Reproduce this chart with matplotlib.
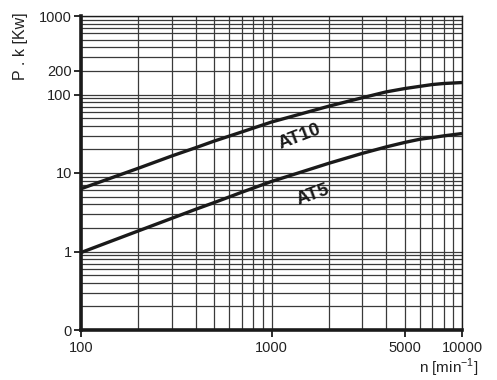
import matplotlib
matplotlib.use("Agg")
import matplotlib.pyplot as plt
from matplotlib.ticker import NullFormatter, LogLocator

plt.rcParams['font.family'] = ['Liberation Sans', 'DejaVu Sans']
plt.rcParams['mathtext.fontset'] = 'custom'
plt.rcParams['mathtext.rm'] = 'Liberation Sans'

# data
n_rpm = [100, 200, 300, 400, 500, 700, 1000, 2000, 3000, 4000, 5000, 6000, 7000, 8000, 10000]
at10 = [6.3, 11.5, 16.5, 21, 25.5, 33.4, 44.6, 71, 91, 108, 119, 127, 134, 138, 142]
at5 = [0.97, 1.83, 2.65, 3.45, 4.2, 5.7, 7.8, 13.3, 17.8, 21.5, 24.5, 26.9, 28.3, 29.7, 31.8]
x_ticks = [100, 1000, 5000, 10000]
x_labels = ['100', '1000', '5000', '10000']
y_ticks = [0.1, 1, 10, 100, 200, 1000]
y_labels = ['0', '1', '10', '100', '200', '1000']

fig = plt.figure(figsize=(4.97, 3.80), dpi=100)
ax = fig.add_axes([81/497, 1-330/380, (462-81)/497, (330-16)/380])
ax.set_xscale('log')
ax.set_yscale('log')
ax.set_xlim(100, 10000)
ax.set_ylim(0.1, 1000)

# grid
ax.xaxis.set_minor_locator(LogLocator(base=10, subs=range(2, 10)))
ax.yaxis.set_minor_locator(LogLocator(base=10, subs=range(2, 10)))
ax.grid(True, which='both', axis='both', color='#3a3a3a', linewidth=0.9)
ax.set_axisbelow(True)

ax.plot(n_rpm, at10, color='#1a1a1a', linewidth=2.4, solid_capstyle='butt', zorder=3)
ax.plot(n_rpm, at5, color='#1a1a1a', linewidth=2.4, solid_capstyle='butt', zorder=3)

ax.set_xticks(x_ticks)
ax.set_xticklabels(x_labels)
ax.set_yticks(y_ticks)
ax.set_yticklabels(y_labels)
ax.xaxis.set_minor_formatter(NullFormatter())
ax.yaxis.set_minor_formatter(NullFormatter())
ax.tick_params(which='minor', length=0)
ax.tick_params(which='major', length=5, width=1.3, color='#1a1a1a',
               labelsize=10.5, labelcolor='#222222')
ax.tick_params(axis='y', pad=1.5)
ax.tick_params(axis='x', pad=3)

for s in ['left', 'bottom']:
    ax.spines[s].set_linewidth(2.6)
    ax.spines[s].set_color('#1a1a1a')
for s in ['top', 'right']:
    ax.spines[s].set_linewidth(1.0)
    ax.spines[s].set_color('#1a1a1a')

lab_font = dict(family=['Liberation Sans Narrow', 'Liberation Sans'], weight='bold',
                size=13.5, color='#1a1a1a', ha='center', va='center')
ax.text(1400, 29, 'AT10', rotation=21, **lab_font)
ax.text(1660, 5.3, 'AT5', rotation=20, **lab_font)

fig.text(20/497, 1-46/380, 'P . k [Kw]', rotation=90, ha='center', va='center',
         fontsize=11.5, color='#222222')
fig.text(478/497, 1-368/380, 'n [min$^{-1}$]', ha='right', va='center',
         fontsize=11, color='#222222')

fig.savefig('out.png', dpi=100)
